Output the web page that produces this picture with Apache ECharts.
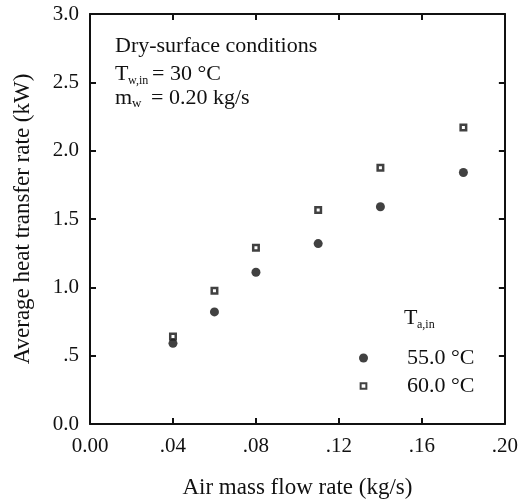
<!DOCTYPE html>
<html><head><meta charset="utf-8">
<script src="https://cdn.jsdelivr.net/npm/echarts@6/dist/echarts.min.js"></script>
<style>html,body{margin:0;padding:0;background:#fff}#c{width:521px;height:504px}</style>
</head><body><div id="c"></div>
<script>
const airFlow = [0.04, 0.06, 0.08, 0.11, 0.14, 0.18];
const q55 = [0.59, 0.82, 1.11, 1.32, 1.59, 1.84];
const q60 = [0.64, 0.975, 1.29, 1.565, 1.875, 2.17];
const xTicks = ['0.00', '.04', '.08', '.12', '.16', '.20'];
const yTicks = ['0.0', '.5', '1.0', '1.5', '2.0', '2.5', '3.0'];
const seriesNames = ['55.0 °C', '60.0 °C'];
const xTitle = 'Air mass flow rate (kg/s)';
const yTitle = 'Average heat transfer rate (kW)';

const FF = 'Liberation Serif';
const INK = '#111';
const chart = echarts.init(document.getElementById('c'), null, {renderer: 'canvas'});

const axisCommon = {
  axisLine: {show: true, onZero: false, lineStyle: {color: INK, width: 2}},
  axisTick: {show: true, inside: true, length: 6, lineStyle: {color: INK, width: 2}},
  splitLine: {show: false}
};

function txtAbs(x, y, s, size) {
  return {type: 'text', x: x, y: y, style: {text: s, fontSize: size, fontFamily: FF, fill: INK, verticalAlign: 'middle', align: 'left'}};
}

chart.setOption({
  backgroundColor: '#fff',
  animation: false,
  grid: {left: 90, right: 13, top: 14, bottom: 77, containLabel: false},
  xAxis: [
    Object.assign({
      type: 'value', min: 0, max: 0.2, interval: 0.04, position: 'bottom',
      name: xTitle, nameLocation: 'middle', nameGap: 52,
      nameTextStyle: {fontFamily: FF, fontSize: 23, color: INK},
      axisLabel: {margin: 12, fontFamily: FF, fontSize: 21, color: INK,
        formatter: v => xTicks[Math.round(v / 0.04)]}
    }, axisCommon),
    Object.assign({
      type: 'value', min: 0, max: 0.2, interval: 0.04, position: 'top',
      axisLabel: {show: false}
    }, axisCommon)
  ],
  yAxis: [
    Object.assign({
      type: 'value', min: 0, max: 3, interval: 0.5, position: 'left',
      name: yTitle, nameLocation: 'middle', nameGap: 56, nameRotate: 90,
      nameTextStyle: {fontFamily: FF, fontSize: 23, color: INK},
      axisLabel: {margin: 11, fontFamily: FF, fontSize: 21, color: INK,
        formatter: v => yTicks[Math.round(v / 0.5)]}
    }, axisCommon),
    Object.assign({
      type: 'value', min: 0, max: 3, interval: 0.5, position: 'right',
      axisLabel: {show: false}
    }, axisCommon)
  ],
  legend: {
    orient: 'vertical', left: 353, top: 342,
    itemWidth: 9, itemHeight: 9, itemGap: 6,
    data: [
      {name: seriesNames[0]},
      {name: seriesNames[1], icon: 'path://M0 0L0 0M11 11L11 11M2 2L9 2L9 9L2 9Z'}
    ],
    textStyle: {fontFamily: FF, fontSize: 22, color: INK, lineHeight: 22, padding: [0, 0, 0, 34]}
  },
  graphic: [
    txtAbs(115, 46, 'Dry-surface conditions', 22),
    txtAbs(115, 74, 'T', 22),
    txtAbs(128, 81, 'w,in', 12),
    txtAbs(152, 74, '= 30 °C', 22),
    txtAbs(115, 98, 'm', 22),
    txtAbs(132, 104, 'w', 13),
    txtAbs(151, 98, '= 0.20 kg/s', 22),
    txtAbs(404, 318, 'T', 22),
    txtAbs(417, 325, 'a,in', 12)
  ],
  series: [
    {
      name: seriesNames[0], type: 'scatter', symbol: 'circle', symbolSize: 9,
      itemStyle: {color: INK},
      data: airFlow.map((x, i) => [x, q55[i]])
    },
    {
      name: seriesNames[1], type: 'scatter', symbol: 'rect', symbolSize: 5.5,
      itemStyle: {color: '#fff', borderColor: INK, borderWidth: 2.5},
      data: airFlow.map((x, i) => [x, q60[i]])
    }
  ]
});
</script></body></html>
